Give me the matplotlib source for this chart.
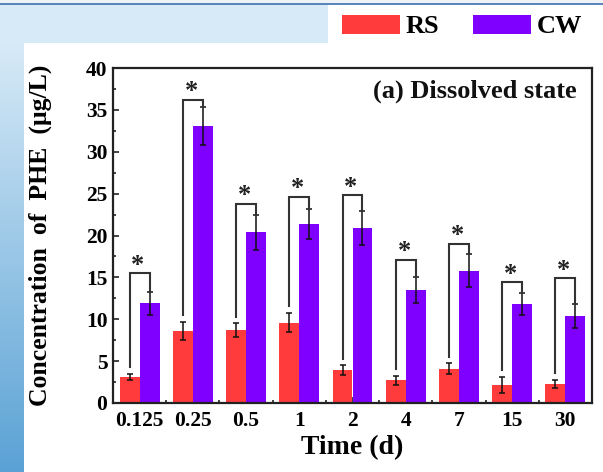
import numpy as np
import matplotlib
matplotlib.use("Agg")
import matplotlib.pyplot as plt
from matplotlib.patches import Rectangle, Patch
from matplotlib.ticker import MultipleLocator, FixedLocator

# ---- data -----------------------------------------------------------
times = ['0.125', '0.25', '0.5', '1', '2', '4', '7', '15', '30']
rs = [3.1, 8.6, 8.7, 9.6, 3.9, 2.7, 4.1, 2.2, 2.3]
rs_err = [0.4, 1.05, 0.8, 1.15, 0.6, 0.55, 0.65, 0.95, 0.5]
cw = [11.9, 33.1, 20.4, 21.4, 20.9, 13.5, 15.8, 11.8, 10.4]
cw_err = [1.4, 2.3, 2.1, 1.8, 2.0, 1.5, 2.0, 1.35, 1.4]
bracket_top = [15.5, 36.2, 23.8, 24.6, 24.8, 17.1, 19.0, 14.4, 14.9]
series_names = ['RS', 'CW']

# ---- style ----------------------------------------------------------
RED = '#FF3B3B'
PURPLE = '#7F00FF'
plt.rcParams['font.family'] = ['Liberation Serif', 'DejaVu Serif']
plt.rcParams['font.weight'] = 'bold'

W, H = 603, 472
fig = plt.figure(figsize=(W / 100, H / 100), dpi=100, facecolor='white')

# window-like backdrop: top rule, light band and a blue gradient strip
fig.patches.append(Rectangle((0, 1 - 4 / H), 1, 4 / H, transform=fig.transFigure,
                             facecolor='#eef3f8', edgecolor='none', zorder=-10))
fig.patches.append(Rectangle((0, 1 - 5 / H), 1, 2 / H, transform=fig.transFigure,
                             facecolor='#5a86bb', edgecolor='none', zorder=-9))
fig.patches.append(Rectangle((0, 1 - 43 / H), 328 / W, 38 / H, transform=fig.transFigure,
                             facecolor='#d7eaf7', edgecolor='none', zorder=-9))
grad_ax = fig.add_axes([0, 0, 24 / W, 1 - 43 / H], zorder=-5)
top_c = np.array([0xd7, 0xea, 0xf7]) / 255
bot_c = np.array([0x5a, 0xa2, 0xd5]) / 255
t = np.linspace(0, 1, 256)[:, None]
grad = (top_c[None, :] * (1 - t) + bot_c[None, :] * t)[:, None, :]
grad_ax.imshow(grad, aspect='auto', extent=[0, 1, 0, 1])
grad_ax.set_axis_off()

# ---- main axes ------------------------------------------------------
ax = fig.add_axes([113 / W, 1 - 403 / H, 479 / W, 335 / H])
x = np.arange(len(times))
bw = 0.375

ebar_kw = dict(ecolor='#111111', elinewidth=1.1, capsize=2.5, capthick=1.1)
ax.bar(x - bw / 2, rs, bw, color=RED, yerr=rs_err, error_kw=ebar_kw, zorder=2)
ax.bar(x + bw / 2, cw, bw, color=PURPLE, yerr=cw_err, error_kw=ebar_kw, zorder=2)

# significance brackets with asterisks
gap = 0.8
for i in range(len(times)):
    xl, xr = x[i] - bw / 2, x[i] + bw / 2
    yl = rs[i] + rs_err[i] + gap
    yr = cw[i] + cw_err[i]
    yt = bracket_top[i]
    ax.plot([xl, xl, xr, xr], [yl, yt, yt, yr], color='#333333', lw=1.5,
            solid_joinstyle='miter', zorder=3)
    ax.text(x[i] - 0.03, yt - 0.4, '*', ha='center', va='bottom', fontsize=19,
            fontweight='bold', color='#222222')

ax.set_xlim(-0.5, len(times) - 0.5)
ax.set_ylim(0, 40)
ax.set_xticks(x)
ax.set_xticklabels(times)
ax.xaxis.set_minor_locator(FixedLocator(np.arange(len(times) + 1) - 0.5))
ax.yaxis.set_major_locator(MultipleLocator(5))
ax.yaxis.set_minor_locator(MultipleLocator(2.5))
ax.tick_params(axis='both', which='both', direction='in', width=1.2, color='#222222')
ax.tick_params(axis='both', which='major', length=4, labelsize=15.5)
ax.tick_params(axis='both', which='minor', length=2.5)
ax.tick_params(axis='x', which='major', pad=6)
ax.tick_params(axis='y', which='major', pad=4)
for lab in ax.get_xticklabels() + ax.get_yticklabels():
    lab.set_fontweight('bold')
for sp in ax.spines.values():
    sp.set_linewidth(1.6)
    sp.set_color('#222222')

ax.set_xlabel('Time (d)', fontsize=20, fontweight='bold', labelpad=3)
ax.set_ylabel('Concentration  of  PHE  (μg/L)', fontsize=18.5, fontweight='bold')
ax.yaxis.set_label_coords(-0.128, 0.5)
ax.text(0.968, 0.93, '(a) Dissolved state', transform=ax.transAxes, ha='right',
        va='center', fontsize=19, fontweight='bold', color='#111111')

# legend above the frame
handles = [Patch(facecolor=RED, edgecolor='none'), Patch(facecolor=PURPLE, edgecolor='none')]
fig.legend(handles, series_names, loc='center', bbox_to_anchor=(462 / W, 1 - 26.5 / H),
           ncol=2, frameon=False, prop={'size': 19, 'weight': 'bold'},
           handlelength=2.2, handleheight=0.75, handletextpad=0.2, columnspacing=1.3,
           borderpad=0, borderaxespad=0)

fig.savefig('out.png', dpi=100, facecolor='white')
